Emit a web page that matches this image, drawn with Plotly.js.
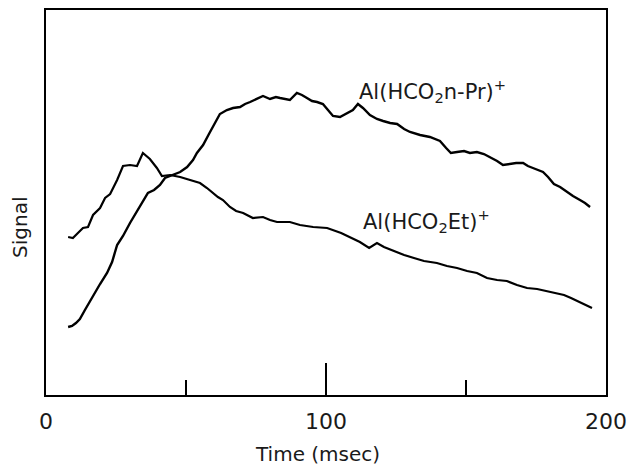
<!DOCTYPE html>
<html>
<head>
<meta charset="utf-8">
<script src="https://cdn.plot.ly/plotly-3.0.1.min.js"></script>
<style>html,body{margin:0;padding:0;background:#fff;}#chart{width:634px;height:468px;}</style>
</head>
<body>
<div id="chart"></div>
<script>
// Time (msec) and signal (arbitrary units)
const timePr = [7.9,9.3,10.7,12.1,13.9,15.7,17.5,19.3,21.8,23.6,25.4,27.5,30.0,32.9,34.6,36.4,38.6,40.7,42.5,45.4,47.9,50.4,52.5,53.9,56.1,58.2,59.6,62.1,64.6,66.8,69.3,71.1,72.9,75.4,77.5,80.0,82.1,83.6,85.7,87.1,89.6,91.4,93.2,95.0,96.8,98.9,100.7,102.5,105.0,107.5,109.6,111.4,113.2,115.7,118.2,120.4,122.9,125.4,127.9,130.0,133.6,137.1,140.7,142.9,144.6,146.8,149.3,151.4,153.9,156.4,158.6,161.1,163.2,165.7,167.9,170.4,172.1,173.9,175.7,177.5,179.3,181.4,183.6,186.1,188.2,190.7,192.5,194.3];
const signalPr = [68,69,72,76,85,94,103,111,122,133,150,159,172,185,194,202,205,210,217,220,223,228,235,242,250,261,268,281,285,287,288,291,293,296,299,296,298,297,296,295,302,300,297,294,293,291,285,279,278,282,285,291,287,280,276,274,272,271,266,263,260,258,254,247,242,243,244,242,243,241,238,234,230,231,232,232,229,227,225,223,218,211,208,203,199,195,192,188];

const timeEt = [7.9,9.6,11.4,13.2,15.0,16.8,19.3,21.1,22.9,25.4,27.5,30.0,32.5,34.6,37.1,39.6,41.4,44.3,47.9,51.4,55.0,57.5,59.6,61.4,63.2,65.7,67.9,70.4,73.9,77.5,80.0,82.5,87.1,90.7,95.4,100.4,105.4,108.6,112.1,115.4,118.2,120.7,123.2,127.9,131.4,135.0,139.6,143.2,146.8,150.4,153.9,157.5,161.1,164.6,168.2,171.8,175.4,178.9,182.1,185.0,187.5,189.6,192.1,195.0];
const signalEt = [158,157,162,167,168,180,187,197,201,215,229,230,229,242,236,227,219,220,218,215,212,207,202,198,195,188,184,182,177,178,175,173,173,170,168,167,162,158,153,147,152,148,145,140,137,134,132,129,127,124,122,117,115,114,110,107,106,104,102,100,97,94,91,87];

const xTickVals = [0,100,200];
const xTickText = ['0','100','200'];
const labelPr = {text:'Al(HCO<sub>2</sub>n-Pr)<sup>+</sup>', t:111, s:304};
const labelEt = {text:'Al(HCO<sub>2</sub>Et)<sup>+</sup>', t:112.5, s:174};
const xTitle = 'Time (msec)';
const yTitle = 'Signal';

const FONT = 'DejaVu Sans';
const TXT = '#1a1a1a';

const traces = [
  {x: timePr, y: signalPr, type:'scatter', mode:'lines', line:{color:'#000', width:2.4}, hoverinfo:'skip', showlegend:false},
  {x: timeEt, y: signalEt, type:'scatter', mode:'lines', line:{color:'#000', width:2.2}, hoverinfo:'skip', showlegend:false}
];

const layout = {
  width:634, height:468,
  margin:{l:46, r:28, t:10, b:73},
  paper_bgcolor:'#fff', plot_bgcolor:'#fff',
  font:{family:FONT, color:TXT},
  showlegend:false,
  xaxis:{
    range:[0,200], showgrid:false, zeroline:false,
    showline:true, mirror:true, linecolor:'#000', linewidth:2,
    ticks:'inside', tickmode:'array', tickvals:xTickVals, ticktext:xTickText,
    ticklen:32, tickwidth:1.5, tickcolor:'#000', ticklabelstandoff:6,
    minor:{tickmode:'linear', tick0:0, dtick:50, ticks:'inside', ticklen:15, tickwidth:1.5, tickcolor:'#000', showgrid:false},
    tickfont:{family:FONT, size:22, color:TXT}
  },
  yaxis:{
    range:[0,385], showgrid:false, zeroline:false,
    showline:true, mirror:true, linecolor:'#000', linewidth:2,
    ticks:'', showticklabels:false
  },
  annotations:[
    {x:labelPr.t, y:labelPr.s, xref:'x', yref:'y', text:labelPr.text, showarrow:false, xanchor:'left', yanchor:'middle', font:{family:FONT, size:21, color:TXT}},
    {x:labelEt.t, y:labelEt.s, xref:'x', yref:'y', text:labelEt.text, showarrow:false, xanchor:'left', yanchor:'middle', font:{family:FONT, size:21, color:TXT}},
    {x:0.484, y:-0.152, xref:'paper', yref:'paper', text:xTitle, showarrow:false, xanchor:'center', yanchor:'middle', font:{family:FONT, size:20, color:TXT}},
    {x:-0.0464, y:0.434, xref:'paper', yref:'paper', text:yTitle, textangle:-90, showarrow:false, xanchor:'center', yanchor:'middle', font:{family:FONT, size:20, color:TXT}}
  ]
};

Plotly.newPlot('chart', traces, layout, {staticPlot:true, displayModeBar:false});
</script>
</body>
</html>
